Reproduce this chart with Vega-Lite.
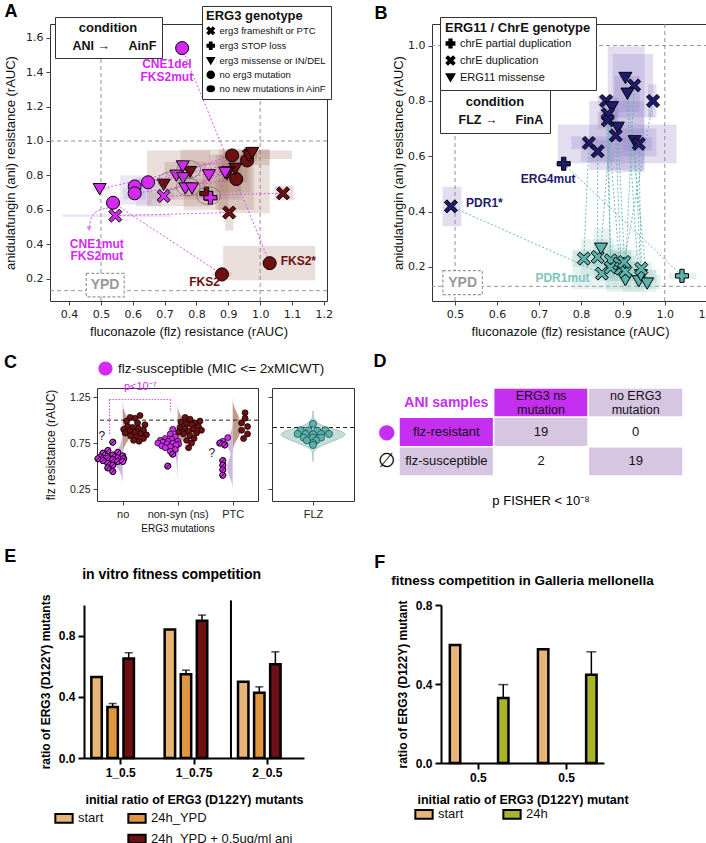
{
"$schema":"https://vega.github.io/schema/vega-lite/v6.json",
"background":"white",
"padding":{"left":2,"top":2,"right":0,"bottom":0},
"config":{
 "font":"Liberation Sans",
 "view":{"stroke":"#333","strokeWidth":1},
 "axis":{"grid":false,"domain":false,"labelOverlap":false,"labelFont":"DejaVu Sans","labelFontSize":10.5,"labelColor":"#222","titleFont":"Liberation Sans","titleFontSize":13,"titleFontWeight":"normal","titleColor":"#111","tickColor":"#444","tickSize":4,"labelPadding":3,"titlePadding":8},
 "title":{"font":"Liberation Sans","fontSize":18,"fontWeight":"bold","anchor":"start","color":"black","offset":2},
 "legend":{"labelFont":"Liberation Sans","titleFont":"Liberation Sans","labelColor":"#111","titleColor":"#111"}
},
"datasets":{
"A":[
{"pair":1,"cond":"ANI","geno":"no erg3 mutation","flz":0.755,"ani":1.54,"flo":0.745,"fhi":0.765,"alo":1.53,"ahi":1.55},
{"pair":1,"cond":"AinF","geno":"no erg3 mutation","flz":1.03,"ani":0.29,"flo":0.884,"fhi":1.173,"alo":0.19,"ahi":0.39},
{"pair":2,"cond":"ANI","geno":"no erg3 mutation","flz":0.538,"ani":0.641,"flo":0.52,"fhi":0.56,"alo":0.62,"ahi":0.66},
{"pair":2,"cond":"AinF","geno":"no erg3 mutation","flz":0.88,"ani":0.225,"flo":0.85,"fhi":0.91,"alo":0.215,"ahi":0.235},
{"pair":3,"cond":"ANI","geno":"erg3 frameshift or PTC","flz":0.545,"ani":0.566,"flo":0.38,"fhi":0.72,"alo":0.558,"ahi":0.574},
{"pair":3,"cond":"AinF","geno":"erg3 frameshift or PTC","flz":0.903,"ani":0.584,"flo":0.89,"fhi":0.916,"alo":0.48,"ahi":0.62},
{"pair":4,"cond":"ANI","geno":"erg3 frameshift or PTC","flz":0.697,"ani":0.68,"flo":0.66,"fhi":0.73,"alo":0.66,"ahi":0.70},
{"pair":4,"cond":"AinF","geno":"erg3 frameshift or PTC","flz":1.072,"ani":0.696,"flo":1.045,"fhi":1.105,"alo":0.655,"ahi":0.74},
{"pair":5,"cond":"ANI","geno":"erg3 STOP loss","flz":0.844,"ani":0.67,"flo":0.83,"fhi":0.86,"alo":0.65,"ahi":0.69},
{"pair":5,"cond":"AinF","geno":"erg3 STOP loss","flz":0.831,"ani":0.694,"flo":0.76,"fhi":0.90,"alo":0.60,"ahi":0.78},
{"pair":6,"cond":"ANI","geno":"erg3 missense or IN/DEL","flz":0.496,"ani":0.72,"flo":0.47,"fhi":0.53,"alo":0.71,"ahi":0.73},
{"pair":6,"cond":"AinF","geno":"erg3 missense or IN/DEL","flz":0.97,"ani":0.92,"flo":0.88,"fhi":1.10,"alo":0.895,"ahi":0.945},
{"pair":7,"cond":"ANI","geno":"no erg3 mutation","flz":0.606,"ani":0.736,"flo":0.56,"fhi":0.66,"alo":0.63,"ahi":0.80},
{"pair":7,"cond":"AinF","geno":"no erg3 mutation","flz":0.912,"ani":0.916,"flo":0.75,"fhi":1.03,"alo":0.86,"ahi":0.95},
{"pair":8,"cond":"ANI","geno":"no erg3 mutation","flz":0.606,"ani":0.696,"flo":0.57,"fhi":0.64,"alo":0.66,"ahi":0.73},
{"pair":8,"cond":"AinF","geno":"no erg3 mutation","flz":0.925,"ani":0.779,"flo":0.86,"fhi":0.98,"alo":0.60,"ahi":0.92},
{"pair":9,"cond":"ANI","geno":"no erg3 mutation","flz":0.648,"ani":0.76,"flo":0.61,"fhi":0.69,"alo":0.62,"ahi":0.79},
{"pair":9,"cond":"AinF","geno":"no erg3 mutation","flz":0.959,"ani":0.887,"flo":0.87,"fhi":1.03,"alo":0.58,"ahi":0.95},
{"pair":10,"cond":"ANI","geno":"erg3 missense or IN/DEL","flz":0.737,"ani":0.798,"flo":0.72,"fhi":0.75,"alo":0.78,"ahi":0.82},
{"pair":10,"cond":"AinF","geno":"erg3 missense or IN/DEL","flz":0.697,"ani":0.745,"flo":0.645,"fhi":0.843,"alo":0.62,"ahi":0.945},
{"pair":11,"cond":"ANI","geno":"erg3 missense or IN/DEL","flz":0.757,"ani":0.852,"flo":0.74,"fhi":0.77,"alo":0.84,"ahi":0.87},
{"pair":11,"cond":"AinF","geno":"erg3 missense or IN/DEL","flz":0.78,"ani":0.82,"flo":0.70,"fhi":0.83,"alo":0.66,"ahi":0.88},
{"pair":12,"cond":"ANI","geno":"erg3 missense or IN/DEL","flz":0.758,"ani":0.783,"flo":0.74,"fhi":0.78,"alo":0.77,"ahi":0.80},
{"pair":12,"cond":"AinF","geno":"erg3 missense or IN/DEL","flz":0.922,"ani":0.838,"flo":0.88,"fhi":0.96,"alo":0.76,"ahi":0.91},
{"pair":13,"cond":"ANI","geno":"erg3 missense or IN/DEL","flz":0.765,"ani":0.724,"flo":0.75,"fhi":0.78,"alo":0.71,"ahi":0.74},
{"pair":13,"cond":"AinF","geno":"erg3 missense or IN/DEL","flz":0.90,"ani":0.818,"flo":0.84,"fhi":0.97,"alo":0.70,"ahi":0.92},
{"pair":14,"cond":"ANI","geno":"erg3 missense or IN/DEL","flz":0.786,"ani":0.724,"flo":0.77,"fhi":0.80,"alo":0.71,"ahi":0.74},
{"pair":14,"cond":"AinF","geno":"erg3 missense or IN/DEL","flz":0.965,"ani":0.91,"flo":0.94,"fhi":0.99,"alo":0.88,"ahi":0.94},
{"pair":15,"cond":"ANI","geno":"erg3 missense or IN/DEL","flz":0.839,"ani":0.80,"flo":0.82,"fhi":0.86,"alo":0.78,"ahi":0.82},
{"pair":15,"cond":"AinF","geno":"erg3 missense or IN/DEL","flz":0.896,"ani":0.808,"flo":0.82,"fhi":0.94,"alo":0.66,"ahi":0.87},
{"pair":16,"cond":"ANI","geno":"erg3 missense or IN/DEL","flz":0.89,"ani":0.815,"flo":0.87,"fhi":0.91,"alo":0.80,"ahi":0.83},
{"pair":16,"cond":"AinF","geno":"erg3 missense or IN/DEL","flz":0.975,"ani":0.93,"flo":0.96,"fhi":0.99,"alo":0.91,"ahi":0.95}
],
"B":[
{"pair":1,"cond":"FinA","geno":"chrE duplication","flz":0.49,"ani":0.419,"flo":0.47,"fhi":0.515,"alo":0.347,"ahi":0.49},
{"pair":1,"cond":"FLZ","geno":"chrE duplication","flz":0.85,"ani":0.176,"flo":0.78,"fhi":0.92,"alo":0.12,"ahi":0.26},
{"pair":2,"cond":"FinA","geno":"chrE partial duplication","flz":0.759,"ani":0.573,"flo":0.752,"fhi":0.766,"alo":0.555,"ahi":0.59},
{"pair":2,"cond":"FLZ","geno":"chrE partial duplication","flz":1.041,"ani":0.168,"flo":1.01,"fhi":1.075,"alo":0.155,"ahi":0.18},
{"pair":3,"cond":"FinA","geno":"chrE duplication","flz":0.819,"ani":0.648,"flo":0.777,"fhi":0.864,"alo":0.625,"ahi":0.672},
{"pair":3,"cond":"FLZ","geno":"chrE duplication","flz":0.807,"ani":0.23,"flo":0.78,"fhi":0.84,"alo":0.2,"ahi":0.26},
{"pair":4,"cond":"FinA","geno":"chrE duplication","flz":0.84,"ani":0.618,"flo":0.80,"fhi":0.88,"alo":0.58,"ahi":0.66},
{"pair":4,"cond":"FLZ","geno":"chrE duplication","flz":0.84,"ani":0.236,"flo":0.80,"fhi":0.88,"alo":0.17,"ahi":0.30},
{"pair":5,"cond":"FinA","geno":"chrE duplication","flz":0.86,"ani":0.80,"flo":0.84,"fhi":0.88,"alo":0.78,"ahi":0.82},
{"pair":5,"cond":"FLZ","geno":"chrE duplication","flz":0.871,"ani":0.224,"flo":0.83,"fhi":0.91,"alo":0.16,"ahi":0.28},
{"pair":6,"cond":"FinA","geno":"ERG11 missense","flz":0.874,"ani":0.777,"flo":0.85,"fhi":0.89,"alo":0.74,"ahi":0.81},
{"pair":6,"cond":"FLZ","geno":"ERG11 missense","flz":0.848,"ani":0.266,"flo":0.83,"fhi":0.87,"alo":0.20,"ahi":0.34},
{"pair":7,"cond":"FinA","geno":"chrE duplication","flz":0.864,"ani":0.752,"flo":0.845,"fhi":0.885,"alo":0.72,"ahi":0.78},
{"pair":7,"cond":"FLZ","geno":"chrE duplication","flz":0.871,"ani":0.198,"flo":0.84,"fhi":0.90,"alo":0.15,"ahi":0.25},
{"pair":8,"cond":"FinA","geno":"chrE duplication","flz":0.864,"ani":0.73,"flo":0.84,"fhi":0.89,"alo":0.70,"ahi":0.76},
{"pair":8,"cond":"FLZ","geno":"chrE duplication","flz":0.892,"ani":0.212,"flo":0.86,"fhi":0.92,"alo":0.16,"ahi":0.26},
{"pair":9,"cond":"FinA","geno":"ERG11 missense","flz":0.888,"ani":0.703,"flo":0.745,"fhi":1.028,"alo":0.575,"ahi":0.715},
{"pair":9,"cond":"FLZ","geno":"ERG11 missense","flz":0.906,"ani":0.152,"flo":0.86,"fhi":0.95,"alo":0.11,"ahi":0.20},
{"pair":10,"cond":"FinA","geno":"chrE duplication","flz":0.883,"ani":0.675,"flo":0.82,"fhi":0.95,"alo":0.55,"ahi":0.80},
{"pair":10,"cond":"FLZ","geno":"chrE duplication","flz":0.896,"ani":0.194,"flo":0.86,"fhi":0.93,"alo":0.15,"ahi":0.24},
{"pair":11,"cond":"FinA","geno":"ERG11 missense","flz":0.906,"ani":0.883,"flo":0.864,"fhi":0.952,"alo":0.543,"ahi":0.997},
{"pair":11,"cond":"FLZ","geno":"ERG11 missense","flz":0.938,"ani":0.148,"flo":0.90,"fhi":0.98,"alo":0.11,"ahi":0.19},
{"pair":12,"cond":"FinA","geno":"chrE duplication","flz":0.927,"ani":0.856,"flo":0.876,"fhi":0.972,"alo":0.74,"ahi":0.97},
{"pair":12,"cond":"FLZ","geno":"chrE duplication","flz":0.906,"ani":0.184,"flo":0.87,"fhi":0.94,"alo":0.15,"ahi":0.22},
{"pair":13,"cond":"FinA","geno":"ERG11 missense","flz":0.911,"ani":0.826,"flo":0.88,"fhi":0.94,"alo":0.76,"ahi":0.89},
{"pair":13,"cond":"FLZ","geno":"ERG11 missense","flz":0.958,"ani":0.14,"flo":0.93,"fhi":0.99,"alo":0.12,"ahi":0.17},
{"pair":14,"cond":"FinA","geno":"chrE duplication","flz":0.972,"ani":0.80,"flo":0.96,"fhi":0.98,"alo":0.74,"ahi":0.86},
{"pair":14,"cond":"FLZ","geno":"chrE duplication","flz":0.903,"ani":0.218,"flo":0.87,"fhi":0.94,"alo":0.18,"ahi":0.26},
{"pair":15,"cond":"FinA","geno":"ERG11 missense","flz":0.928,"ani":0.654,"flo":0.88,"fhi":0.98,"alo":0.60,"ahi":0.70},
{"pair":15,"cond":"FLZ","geno":"ERG11 missense","flz":0.943,"ani":0.17,"flo":0.91,"fhi":0.98,"alo":0.15,"ahi":0.19},
{"pair":16,"cond":"FinA","geno":"chrE duplication","flz":0.938,"ani":0.645,"flo":0.90,"fhi":0.97,"alo":0.62,"ahi":0.67},
{"pair":16,"cond":"FLZ","geno":"chrE duplication","flz":0.944,"ani":0.194,"flo":0.92,"fhi":0.97,"alo":0.17,"ahi":0.22}
],
"C":[
{"g":"no","c":"ANI","v":0.76,"s":-2,"sus":1},{"g":"no","c":"ANI","v":0.67,"s":-3,"sus":1},{"g":"no","c":"ANI","v":0.65,"s":-1,"sus":1},{"g":"no","c":"ANI","v":0.64,"s":-4,"sus":1},{"g":"no","c":"ANI","v":0.62,"s":-2,"sus":1},{"g":"no","c":"ANI","v":0.61,"s":0,"sus":1},{"g":"no","c":"ANI","v":0.60,"s":-4.5,"sus":1},{"g":"no","c":"ANI","v":0.59,"s":-3,"sus":1},{"g":"no","c":"ANI","v":0.59,"s":-1,"sus":1},{"g":"no","c":"ANI","v":0.58,"s":-5,"sus":1},{"g":"no","c":"ANI","v":0.58,"s":0.2,"sus":1},{"g":"no","c":"ANI","v":0.57,"s":-2,"sus":1},{"g":"no","c":"ANI","v":0.56,"s":-4,"sus":1},{"g":"no","c":"ANI","v":0.55,"s":-1,"sus":1},{"g":"no","c":"ANI","v":0.55,"s":0,"sus":1},{"g":"no","c":"ANI","v":0.53,"s":-3,"sus":1},{"g":"no","c":"ANI","v":0.51,"s":-2,"sus":1},{"g":"no","c":"ANI","v":0.48,"s":-3,"sus":1},{"g":"no","c":"ANI","v":0.44,"s":-2,"sus":1},
{"g":"no","c":"AinF","v":1.05,"s":3.5,"sus":0},{"g":"no","c":"AinF","v":1.03,"s":1.5,"sus":0},{"g":"no","c":"AinF","v":1.02,"s":2.5,"sus":0},{"g":"no","c":"AinF","v":0.99,"s":0.8,"sus":0},{"g":"no","c":"AinF","v":0.97,"s":3,"sus":0},{"g":"no","c":"AinF","v":0.95,"s":4.5,"sus":0},{"g":"no","c":"AinF","v":0.93,"s":1,"sus":0},{"g":"no","c":"AinF","v":0.92,"s":2,"sus":0},{"g":"no","c":"AinF","v":0.91,"s":3.2,"sus":0},{"g":"no","c":"AinF","v":0.90,"s":0.2,"sus":0},{"g":"no","c":"AinF","v":0.89,"s":4.2,"sus":0},{"g":"no","c":"AinF","v":0.88,"s":1.4,"sus":0},{"g":"no","c":"AinF","v":0.87,"s":2.5,"sus":0},{"g":"no","c":"AinF","v":0.86,"s":0.5,"sus":0},{"g":"no","c":"AinF","v":0.85,"s":3.6,"sus":0},{"g":"no","c":"AinF","v":0.84,"s":4.8,"sus":0},{"g":"no","c":"AinF","v":0.83,"s":1.6,"sus":0},{"g":"no","c":"AinF","v":0.82,"s":2.8,"sus":0},{"g":"no","c":"AinF","v":0.80,"s":4.2,"sus":0},{"g":"no","c":"AinF","v":0.78,"s":2.2,"sus":0},{"g":"no","c":"AinF","v":0.77,"s":3.3,"sus":0},
{"g":"non-syn (ns)","c":"ANI","v":0.90,"s":-1,"sus":0},{"g":"non-syn (ns)","c":"ANI","v":0.85,"s":-1.5,"sus":0},{"g":"non-syn (ns)","c":"ANI","v":0.82,"s":-0.5,"sus":0},{"g":"non-syn (ns)","c":"ANI","v":0.80,"s":-2.5,"sus":0},{"g":"non-syn (ns)","c":"ANI","v":0.79,"s":-1.2,"sus":0},{"g":"non-syn (ns)","c":"ANI","v":0.78,"s":-3.5,"sus":0},{"g":"non-syn (ns)","c":"ANI","v":0.77,"s":-2,"sus":0},{"g":"non-syn (ns)","c":"ANI","v":0.77,"s":0,"sus":0},{"g":"non-syn (ns)","c":"ANI","v":0.76,"s":-3,"sus":0},{"g":"non-syn (ns)","c":"ANI","v":0.75,"s":-1,"sus":0},{"g":"non-syn (ns)","c":"ANI","v":0.75,"s":-4,"sus":0},{"g":"non-syn (ns)","c":"ANI","v":0.74,"s":-2.2,"sus":0},{"g":"non-syn (ns)","c":"ANI","v":0.74,"s":0.2,"sus":0},{"g":"non-syn (ns)","c":"ANI","v":0.73,"s":-0.3,"sus":0},{"g":"non-syn (ns)","c":"ANI","v":0.72,"s":-3.2,"sus":0},{"g":"non-syn (ns)","c":"ANI","v":0.71,"s":-1.5,"sus":0},{"g":"non-syn (ns)","c":"ANI","v":0.70,"s":-2.5,"sus":0},{"g":"non-syn (ns)","c":"ANI","v":0.68,"s":-0.5,"sus":0},{"g":"non-syn (ns)","c":"ANI","v":0.66,"s":-1.5,"sus":0},{"g":"non-syn (ns)","c":"ANI","v":0.63,"s":-1,"sus":1},{"g":"non-syn (ns)","c":"ANI","v":0.50,"s":-2,"sus":1},
{"g":"non-syn (ns)","c":"AinF","v":1.03,"s":1.5,"sus":0},{"g":"non-syn (ns)","c":"AinF","v":1.01,"s":2.5,"sus":0},{"g":"non-syn (ns)","c":"AinF","v":0.99,"s":4.5,"sus":0},{"g":"non-syn (ns)","c":"AinF","v":0.98,"s":0.7,"sus":0},{"g":"non-syn (ns)","c":"AinF","v":0.97,"s":3.5,"sus":0},{"g":"non-syn (ns)","c":"AinF","v":0.96,"s":1.8,"sus":0},{"g":"non-syn (ns)","c":"AinF","v":0.95,"s":2.8,"sus":0},{"g":"non-syn (ns)","c":"AinF","v":0.93,"s":4.2,"sus":0},{"g":"non-syn (ns)","c":"AinF","v":0.92,"s":0.5,"sus":0},{"g":"non-syn (ns)","c":"AinF","v":0.91,"s":1.5,"sus":0},{"g":"non-syn (ns)","c":"AinF","v":0.90,"s":3.2,"sus":0},{"g":"non-syn (ns)","c":"AinF","v":0.89,"s":4.8,"sus":0},{"g":"non-syn (ns)","c":"AinF","v":0.88,"s":2.2,"sus":0},{"g":"non-syn (ns)","c":"AinF","v":0.87,"s":0.2,"sus":0},{"g":"non-syn (ns)","c":"AinF","v":0.86,"s":3.8,"sus":0},{"g":"non-syn (ns)","c":"AinF","v":0.85,"s":1.2,"sus":0},{"g":"non-syn (ns)","c":"AinF","v":0.83,"s":2.5,"sus":0},{"g":"non-syn (ns)","c":"AinF","v":0.80,"s":3.3,"sus":0},{"g":"non-syn (ns)","c":"AinF","v":0.78,"s":1.8,"sus":0},{"g":"non-syn (ns)","c":"AinF","v":0.75,"s":2.8,"sus":0},{"g":"non-syn (ns)","c":"AinF","v":0.70,"s":2.2,"sus":0},
{"g":"PTC","c":"ANI","v":0.81,"s":-1,"sus":0},{"g":"PTC","c":"ANI","v":0.77,"s":-2,"sus":0},{"g":"PTC","c":"ANI","v":0.75,"s":-2.6,"sus":1},{"g":"PTC","c":"ANI","v":0.73,"s":-1.6,"sus":1},{"g":"PTC","c":"ANI","v":0.56,"s":-2,"sus":1},{"g":"PTC","c":"ANI","v":0.51,"s":-2,"sus":1},{"g":"PTC","c":"ANI","v":0.46,"s":-2,"sus":1},{"g":"PTC","c":"ANI","v":0.40,"s":-2,"sus":1},
{"g":"PTC","c":"AinF","v":1.08,"s":2.5,"sus":0},{"g":"PTC","c":"AinF","v":1.02,"s":2.5,"sus":0},{"g":"PTC","c":"AinF","v":0.97,"s":1.8,"sus":0},{"g":"PTC","c":"AinF","v":0.93,"s":3,"sus":0},{"g":"PTC","c":"AinF","v":0.89,"s":1.8,"sus":0},{"g":"PTC","c":"AinF","v":0.85,"s":3,"sus":0},{"g":"PTC","c":"AinF","v":0.80,"s":2.2,"sus":0}
],
"FLZ":[
{"v":0.96,"s":0},{"v":0.89,"s":-2},{"v":0.89,"s":-0.7},{"v":0.885,"s":0.7},{"v":0.89,"s":2},{"v":0.85,"s":-2.5},{"v":0.85,"s":-1.2},{"v":0.845,"s":0},{"v":0.85,"s":1.3},{"v":0.85,"s":2.6},{"v":0.81,"s":-1.5},{"v":0.81,"s":0},{"v":0.81,"s":1.3},{"v":0.78,"s":-1},{"v":0.78,"s":0.5},{"v":0.75,"s":0},{"v":0.73,"s":0}
],
"E":[
{"grp":"1_0.5","cond":"start","val":0.53},{"grp":"1_0.5","cond":"24h_YPD","val":0.334,"hi":0.356},{"grp":"1_0.5","cond":"24h_YPD + 0.5ug/ml ani","val":0.65,"hi":0.688},
{"grp":"1_0.75","cond":"start","val":0.84},{"grp":"1_0.75","cond":"24h_YPD","val":0.548,"hi":0.574},{"grp":"1_0.75","cond":"24h_YPD + 0.5ug/ml ani","val":0.897,"hi":0.934},
{"grp":"2_0.5","cond":"start","val":0.498},{"grp":"2_0.5","cond":"24h_YPD","val":0.426,"hi":0.465},{"grp":"2_0.5","cond":"24h_YPD + 0.5ug/ml ani","val":0.613,"hi":0.694}
],
"F":[
{"grp":"a","cond":"start","val":0.597},{"grp":"a","cond":"24h","val":0.329,"hi":0.397},{"grp":"b","cond":"start","val":0.576},{"grp":"b","cond":"24h","val":0.447,"hi":0.563}
]
},
"spacing":14,
"resolve":{"scale":{"fill":"independent","shape":"independent","color":"independent"},"legend":{"fill":"independent","shape":"independent","color":"independent"}},
"vconcat":[
{"spacing":1,
 "resolve":{"scale":{"fill":"independent","shape":"independent","color":"independent"},"legend":{"fill":"independent","shape":"independent","color":"independent"}},
 "hconcat":[
 {"width":1,"height":1,"view":{"stroke":null},"data":{"values":[{"k":0}]},"mark":{"type":"text","text":""},"encoding":{}},
 {"spacing":40,
  "resolve":{"scale":{"fill":"independent","shape":"independent","color":"independent"},"legend":{"fill":"independent","shape":"independent","color":"independent"}},
  "hconcat":[
 {"title":{"text":"A","offset":-15},"width":277,"height":277,
  "layer":[
   {"data":{"values":[{"v":0.5},{"v":1.0}]},"mark":{"type":"rule","color":"#888","strokeDash":[4,3],"strokeWidth":0.9},"encoding":{"x":{"field":"v","type":"quantitative","scale":{"domain":[0.34,1.21],"nice":false,"zero":false},"axis":{"labelOverlap":false}}}},
   {"data":{"values":[{"v":1.0},{"v":0.13}]},"mark":{"type":"rule","color":"#888","strokeDash":[4,3],"strokeWidth":0.9},"encoding":{"y":{"field":"v","type":"quantitative","scale":{"domain":[0.07,1.68],"nice":false,"zero":false},"axis":{"labelOverlap":false}}}},
   {"data":{"name":"A"},"mark":{"type":"rect","fillOpacity":0.22},"encoding":{"x":{"field":"flo","type":"quantitative","scale":{"domain":[0.34,1.21],"nice":false,"zero":false},"axis":{"labelOverlap":false}},"x2":{"field":"fhi"},"y":{"field":"alo","type":"quantitative","scale":{"domain":[0.07,1.68],"nice":false,"zero":false},"axis":{"labelOverlap":false}},"y2":{"field":"ahi"},"fill":{"condition":{"test":"datum.cond === 'ANI'","value":"#a48ccf"},"value":"#9a6a55"}}},
   {"data":{"name":"A"},"mark":{"type":"line","color":"#dd44f0","strokeDash":[2,2],"strokeWidth":0.9},"encoding":{"x":{"field":"flz","type":"quantitative","scale":{"domain":[0.34,1.21],"nice":false,"zero":false},"axis":{"labelOverlap":false}},"y":{"field":"ani","type":"quantitative","scale":{"domain":[0.07,1.68],"nice":false,"zero":false},"axis":{"labelOverlap":false}},"detail":{"field":"pair","type":"nominal"}}},
   {"data":{"values":[{"x":0.463,"y":0.5},{"x":0.472,"y":0.592},{"x":0.525,"y":0.612}]},"mark":{"type":"line","color":"#dd44f0","strokeDash":[2,2],"strokeWidth":1,"interpolate":"basis"},"encoding":{"x":{"field":"x","type":"quantitative","scale":{"domain":[0.34,1.21],"nice":false,"zero":false},"axis":{"labelOverlap":false}},"y":{"field":"y","type":"quantitative","scale":{"domain":[0.07,1.68],"nice":false,"zero":false},"axis":{"labelOverlap":false}}}},
   {"data":{"values":[{"x":0.463,"y":0.49}]},"mark":{"type":"point","shape":"triangle-down","filled":true,"color":"#dd44f0","size":28},"encoding":{"x":{"field":"x","type":"quantitative","scale":{"domain":[0.34,1.21],"nice":false,"zero":false},"axis":{"labelOverlap":false}},"y":{"field":"y","type":"quantitative","scale":{"domain":[0.07,1.68],"nice":false,"zero":false},"axis":{"labelOverlap":false}}}},
   {"data":{"name":"A"},"transform":[{"filter":"datum.cond === 'AinF'"}],"mark":{"type":"point","filled":true,"size":170,"stroke":"black","strokeWidth":1,"opacity":1},
    "encoding":{
     "x":{"field":"flz","type":"quantitative","scale":{"domain":[0.34,1.21],"nice":false,"zero":false},"axis":{"title":"fluconazole (flz) resistance (rAUC)","tickCount":9,"format":".1f","labelFontSize":11,"titlePadding":6,"labelOverlap":false}},
     "y":{"field":"ani","type":"quantitative","scale":{"domain":[0.07,1.68],"nice":false,"zero":false},"axis":{"title":"anidulafungin (ani) resistance (rAUC)","tickCount":8,"format":".1f","labelFontSize":11,"titlePadding":8,"labelOverlap":false}},
     "shape":{"field":"geno","type":"nominal","scale":{"domain":["erg3 frameshift or PTC","erg3 STOP loss","erg3 missense or IN/DEL","no erg3 mutation","no new mutations in AinF"],"range":["M-1,-0.6L-0.6,-1L0,-0.4L0.6,-1L1,-0.6L0.4,0L1,0.6L0.6,1L0,0.4L-0.6,1L-1,0.6L-0.4,0Z","M-0.33,-1H0.33V-0.33H1V0.33H0.33V1H-0.33V0.33H-1V-0.33H-0.33Z","triangle-down","circle","M-1,0A1,0.75 0 1,0 1,0A1,0.75 0 1,0 -1,0Z"]},
       "legend":{"title":"ERG3 genotype","orient":"none","legendX":152,"legendY":-18,"strokeColor":"#333","fillColor":"white","padding":4,"titleFontSize":13,"titleFontWeight":"bold","labelFontSize":9.5,"symbolSize":50,"rowPadding":1,"labelLimit":200,"titlePadding":3,
        "encode":{"symbols":{"update":{"stroke":{"value":"#444"},"strokeWidth":{"value":1}}},"labels":{"update":{"fill":{"signal":"datum.value === 'no new mutations in AinF' ? '#777' : '#111'"}}}}}},
     "fill":{"field":"cond","type":"nominal","scale":{"domain":["ANI","AinF"],"range":["#d42af2","#6e0f12"]},
       "legend":{"title":"condition","orient":"none","legendX":5,"legendY":-7,"direction":"horizontal","strokeColor":"#333","fillColor":"white","padding":5,"titleFontSize":13,"titleFontWeight":"bold","titleAnchor":"middle","symbolSize":0,"symbolOpacity":0,"labelFontSize":12.5,"labelFontWeight":"bold","columnPadding":2,"labelOffset":0,
        "labelExpr":"datum.label === 'ANI' ? 'ANI  →' : datum.label",
        "encode":{"labels":{"update":{"fill":{"signal":"datum.value === 'ANI' ? '#d42af2' : '#6e0f12'"}}}}}}}},
   {"data":{"name":"A"},"transform":[{"filter":"datum.cond === 'ANI'"}],"mark":{"type":"point","filled":true,"size":170,"stroke":"black","strokeWidth":1,"opacity":1},
    "encoding":{
     "x":{"field":"flz","type":"quantitative","scale":{"domain":[0.34,1.21],"nice":false,"zero":false},"axis":{"labelOverlap":false}},
     "y":{"field":"ani","type":"quantitative","scale":{"domain":[0.07,1.68],"nice":false,"zero":false},"axis":{"labelOverlap":false}},
     "shape":{"field":"geno","type":"nominal"},
     "fill":{"field":"cond","type":"nominal"}}},
   {"data":{"values":[{"x":0.717,"y":0.768,"geno":"no new mutations in AinF"},{"x":0.774,"y":0.733,"geno":"no new mutations in AinF"},{"x":0.776,"y":0.835,"geno":"no new mutations in AinF"},{"x":0.838,"y":0.682,"geno":"no new mutations in AinF"}]},"mark":{"type":"point","filled":false,"stroke":"#666","strokeWidth":1,"size":560},"encoding":{"x":{"field":"x","type":"quantitative","scale":{"domain":[0.34,1.21],"nice":false,"zero":false},"axis":{"labelOverlap":false}},"y":{"field":"y","type":"quantitative","scale":{"domain":[0.07,1.68],"nice":false,"zero":false},"axis":{"labelOverlap":false}},"shape":{"field":"geno","type":"nominal"}}},
   {"data":{"values":[{"x1":0.454,"x2":0.573,"y1":0.094,"y2":0.23}]},"mark":{"type":"rect","fill":"white","stroke":"#999","strokeDash":[3,2],"strokeWidth":1.2},"encoding":{"x":{"field":"x1","type":"quantitative","scale":{"domain":[0.34,1.21],"nice":false,"zero":false},"axis":{"labelOverlap":false}},"x2":{"field":"x2"},"y":{"field":"y1","type":"quantitative","scale":{"domain":[0.07,1.68],"nice":false,"zero":false},"axis":{"labelOverlap":false}},"y2":{"field":"y2"}}},
   {"data":{"values":[{"x":0.513,"y":0.162,"t":"YPD"}]},"mark":{"type":"text","fontSize":14,"fontWeight":"bold","color":"#999"},"encoding":{"x":{"field":"x","type":"quantitative","scale":{"domain":[0.34,1.21],"nice":false,"zero":false},"axis":{"labelOverlap":false}},"y":{"field":"y","type":"quantitative","scale":{"domain":[0.07,1.68],"nice":false,"zero":false},"axis":{"labelOverlap":false}},"text":{"field":"t"}}},
   {"data":{"values":[{"t":"CNE1del","x":0.707,"y":1.45,"cond":"ANI"},{"t":"FKS2mut","x":0.707,"y":1.37,"cond":"ANI"},{"t":"CNE1mut","x":0.487,"y":0.40,"cond":"ANI"},{"t":"FKS2mut","x":0.487,"y":0.33,"cond":"ANI"},{"t":"FKS2*","x":1.12,"y":0.305,"cond":"AinF"},{"t":"FKS2*","x":0.833,"y":0.18,"cond":"AinF"}]},"mark":{"type":"text","fontSize":12,"fontWeight":"bold"},"encoding":{"x":{"field":"x","type":"quantitative","scale":{"domain":[0.34,1.21],"nice":false,"zero":false},"axis":{"labelOverlap":false}},"y":{"field":"y","type":"quantitative","scale":{"domain":[0.07,1.68],"nice":false,"zero":false},"axis":{"labelOverlap":false}},"text":{"field":"t"},"fill":{"condition":{"test":"datum.cond === 'ANI'","value":"#d42af2"},"value":"#6e0f12"}}}
  ]},
 {"title":{"text":"B","offset":-6,"dx":-18},"width":276,"height":277,
  "layer":[
   {"data":{"values":[{"v":0.5},{"v":1.0}]},"mark":{"type":"rule","color":"#888","strokeDash":[4,3],"strokeWidth":0.9},"encoding":{"x":{"field":"v","type":"quantitative","scale":{"domain":[0.445,1.103],"nice":false,"zero":false}}}},
   {"data":{"values":[{"v":1.0},{"v":0.13}]},"mark":{"type":"rule","color":"#888","strokeDash":[4,3],"strokeWidth":0.9},"encoding":{"y":{"field":"v","type":"quantitative","scale":{"domain":[0.077,1.078],"nice":false,"zero":false}}}},
   {"data":{"name":"B"},"mark":{"type":"rect","fillOpacity":0.25},"encoding":{"x":{"field":"flo","type":"quantitative","scale":{"domain":[0.445,1.103],"nice":false,"zero":false}},"x2":{"field":"fhi"},"y":{"field":"alo","type":"quantitative","scale":{"domain":[0.077,1.078],"nice":false,"zero":false}},"y2":{"field":"ahi"},"fill":{"condition":{"test":"datum.cond === 'FLZ'","value":"#9ccbc5"},"value":"#8c7dc2"}}},
   {"data":{"name":"B"},"mark":{"type":"line","color":"#5cb3ad","strokeDash":[2,2],"strokeWidth":0.9},"encoding":{"x":{"field":"flz","type":"quantitative","scale":{"domain":[0.445,1.103],"nice":false,"zero":false}},"y":{"field":"ani","type":"quantitative","scale":{"domain":[0.077,1.078],"nice":false,"zero":false}},"detail":{"field":"pair","type":"nominal"}}},
   {"data":{"name":"B"},"mark":{"type":"point","filled":true,"size":170,"stroke":"black","strokeWidth":1,"opacity":1},
    "encoding":{
     "x":{"field":"flz","type":"quantitative","scale":{"domain":[0.445,1.103],"nice":false,"zero":false},"axis":{"title":"fluconazole (flz) resistance (rAUC)","values":[0.5,0.6,0.7,0.8,0.9,1.0,1.1],"format":".1f","labelFontSize":11,"titlePadding":6}},
     "y":{"field":"ani","type":"quantitative","scale":{"domain":[0.077,1.078],"nice":false,"zero":false},"axis":{"title":"anidulafungin (ani) resistance (rAUC)","values":[0.2,0.4,0.6,0.8,1.0],"format":".1f","labelFontSize":11,"titlePadding":2}},
     "shape":{"field":"geno","type":"nominal","scale":{"domain":["chrE partial duplication","chrE duplication","ERG11 missense"],"range":["M-0.33,-1H0.33V-0.33H1V0.33H0.33V1H-0.33V0.33H-1V-0.33H-0.33Z","M-1,-0.6L-0.6,-1L0,-0.4L0.6,-1L1,-0.6L0.4,0L1,0.6L0.6,1L0,0.4L-0.6,1L-1,0.6L-0.4,0Z","triangle-down"]},
       "legend":{"title":"ERG11 / ChrE genotype","orient":"none","legendX":8,"legendY":-7,"strokeColor":"#333","fillColor":"white","padding":5,"titleFontSize":13,"titleFontWeight":"bold","labelFontSize":11,"symbolSize":70,"rowPadding":2,"titlePadding":3,
        "encode":{"symbols":{"update":{"stroke":{"value":"#222"},"strokeWidth":{"value":1}}}}}},
     "fill":{"field":"cond","type":"nominal","scale":{"domain":["FLZ","FinA"],"range":["#5cb3ad","#1f1b6e"]},
       "legend":{"title":"condition","orient":"none","legendX":8,"legendY":66,"direction":"horizontal","strokeColor":"#333","fillColor":"white","padding":6,"titleFontSize":13,"titleFontWeight":"bold","titleAnchor":"middle","symbolSize":0,"symbolOpacity":0,"labelFontSize":12.5,"labelFontWeight":"bold","columnPadding":2,"labelOffset":0,
        "labelExpr":"datum.label === 'FLZ' ? 'FLZ  →' : datum.label",
        "encode":{"labels":{"update":{"fill":{"signal":"datum.value === 'FLZ' ? '#5cb3ad' : '#1f1b6e'"}}}}}}}},
   {"data":{"values":[{"x1":0.471,"x2":0.565,"y1":0.10,"y2":0.187}]},"mark":{"type":"rect","fill":"white","stroke":"#999","strokeDash":[3,2],"strokeWidth":1.2},"encoding":{"x":{"field":"x1","type":"quantitative","scale":{"domain":[0.445,1.103],"nice":false,"zero":false}},"x2":{"field":"x2"},"y":{"field":"y1","type":"quantitative","scale":{"domain":[0.077,1.078],"nice":false,"zero":false}},"y2":{"field":"y2"}}},
   {"data":{"values":[{"x":0.518,"y":0.143,"t":"YPD"}]},"mark":{"type":"text","fontSize":14,"fontWeight":"bold","color":"#999"},"encoding":{"x":{"field":"x","type":"quantitative","scale":{"domain":[0.445,1.103],"nice":false,"zero":false}},"y":{"field":"y","type":"quantitative","scale":{"domain":[0.077,1.078],"nice":false,"zero":false}},"text":{"field":"t"}}},
   {"data":{"values":[{"t":"PDR1*","x":0.57,"y":0.43,"cond":"FinA"},{"t":"ERG4mut","x":0.722,"y":0.519,"cond":"FinA"},{"t":"PDR1mut","x":0.756,"y":0.161,"cond":"FLZ"}]},"mark":{"type":"text","fontSize":12,"fontWeight":"bold"},"encoding":{"x":{"field":"x","type":"quantitative","scale":{"domain":[0.445,1.103],"nice":false,"zero":false}},"y":{"field":"y","type":"quantitative","scale":{"domain":[0.077,1.078],"nice":false,"zero":false}},"text":{"field":"t"},"fill":{"condition":{"test":"datum.cond === 'FLZ'","value":"#7cc4be"},"value":"#1f1b6e"}}}
  ]}
 ]}
 ]},
{"spacing":1,
 "resolve":{"scale":{"fill":"independent","shape":"independent","color":"independent"},"legend":{"fill":"independent","shape":"independent","color":"independent"}},
 "hconcat":[
 {"width":1,"height":1,"view":{"stroke":null},"data":{"values":[{"k":0}]},"mark":{"type":"text","text":""},"encoding":{}},
 {"spacing":18,
  "resolve":{"scale":{"fill":"independent","shape":"independent","color":"independent"},"legend":{"fill":"independent","shape":"independent","color":"independent"}},
  "hconcat":[
 {"title":{"text":"C","dx":-40,"offset":-12},"spacing":8,
  "resolve":{"scale":{"shape":"shared"},"legend":{"shape":"shared"}},
  "hconcat":[
  {"width":161,"height":113,
   "layer":[
    {"data":{"name":"C"},"transform":[{"density":"v","groupby":["g","c"],"bandwidth":0.06,"extent":[0.1,1.3],"steps":120},{"calculate":"indexof(['no','non-syn (ns)','PTC'], datum.g)","as":"gi"},{"calculate":"datum.gi + (datum.c === 'ANI' ? -1 : 1) * datum.density * 0.045","as":"xe"}],
     "mark":{"type":"area","orient":"horizontal"},
     "encoding":{"y":{"field":"value","type":"quantitative","scale":{"domain":[0.12,1.35],"nice":false,"zero":false},"axis":{"values":[0.25,0.5,0.75,1.0,1.25],"format":".2f","title":"flz resistance (rAUC)","titleFontSize":12,"labelFont":"Liberation Sans","labelFontSize":10.5,"titlePadding":12,"labelOverlap":false}},"x":{"field":"xe","type":"quantitative","scale":{"domain":[-0.467,2.46],"nice":false,"zero":false},"axis":{"values":[0,1,2],"labelExpr":"['no','non-syn (ns)','PTC'][datum.value]","title":"ERG3 mutations","titleFontSize":10,"labelFont":"Liberation Sans","labelFontSize":11,"titlePadding":4,"labelOverlap":false}},"x2":{"field":"gi"},"detail":[{"field":"g"},{"field":"c"}],"fill":{"condition":{"test":"datum.c === 'ANI'","value":"#c3aed6"},"value":"#b48b78"},"opacity":{"value":0.85}}},
    {"data":{"values":[{"v":1.0}]},"mark":{"type":"rule","color":"#222","strokeDash":[4,3],"strokeWidth":1},"encoding":{"y":{"field":"v","type":"quantitative","scale":{"domain":[0.12,1.35],"nice":false,"zero":false},"axis":{"labelOverlap":false}}}},
    {"data":{"values":[{"x":-0.24,"y":0.85,"x2":-0.24,"y2":1.225},{"x":-0.24,"y":1.225,"x2":0.87,"y2":1.225},{"x":0.87,"y":1.225,"x2":0.87,"y2":1.09}]},"mark":{"type":"rule","color":"#e055f0","strokeDash":[1.5,1.5],"strokeWidth":1.2},"encoding":{"x":{"field":"x","type":"quantitative","scale":{"domain":[-0.467,2.46],"nice":false,"zero":false},"axis":{"labelOverlap":false}},"y":{"field":"y","type":"quantitative","scale":{"domain":[0.12,1.35],"nice":false,"zero":false},"axis":{"labelOverlap":false}},"x2":{"field":"x2"},"y2":{"field":"y2"}}},
    {"data":{"name":"C"},"transform":[{"calculate":"indexof(['no','non-syn (ns)','PTC'], datum.g)","as":"gi"},{"calculate":"datum.gi + datum.s * 0.09","as":"xp"}],
     "mark":{"type":"point","filled":true,"size":36,"stroke":"black","strokeWidth":0.7,"opacity":1},
     "encoding":{"x":{"field":"xp","type":"quantitative","scale":{"domain":[-0.467,2.46],"nice":false,"zero":false},"axis":{"labelOverlap":false}},
      "y":{"field":"v","type":"quantitative","scale":{"domain":[0.12,1.35],"nice":false,"zero":false},"axis":{"labelOverlap":false}},
      "fill":{"condition":{"test":"datum.c === 'ANI'","value":"#d42af2"},"value":"#6e0f12"}}},
    {"data":{"name":"C"},"transform":[{"filter":"datum.sus === 1"},{"calculate":"indexof(['no','non-syn (ns)','PTC'], datum.g)","as":"gi"},{"calculate":"datum.gi + datum.s * 0.09","as":"xp"}],
     "mark":{"type":"point","filled":true,"size":36,"color":"#d42af2","fill":"#d42af2","stroke":"black","strokeWidth":0.9,"opacity":1},
     "encoding":{"x":{"field":"xp","type":"quantitative","scale":{"domain":[-0.467,2.46],"nice":false,"zero":false},"axis":{"labelOverlap":false}},"y":{"field":"v","type":"quantitative","scale":{"domain":[0.12,1.35],"nice":false,"zero":false},"axis":{"labelOverlap":false}},
      "shape":{"field":"sus","type":"nominal","scale":{"domain":[1],"range":["M-1,0A1,1 0 1,0 1,0A1,1 0 1,0 -1,0Z M-0.8,0.8L0.8,-0.8"]},
       "legend":{"title":null,"orient":"top","labelExpr":"'flz-susceptible (MIC <= 2xMICWT)'","symbolSize":200,"symbolFillColor":"#d42af2","symbolStrokeColor":"black","symbolStrokeWidth":2,"labelFontSize":13.5,"labelLimit":300,"offset":0,"padding":0}}}},
    {"data":{"values":[{"x":-0.38,"y":0.83,"t":"?"},{"x":1.62,"y":0.64,"t":"?"}]},"mark":{"type":"text","fontSize":12,"color":"#222"},"encoding":{"x":{"field":"x","type":"quantitative","scale":{"domain":[-0.467,2.46],"nice":false,"zero":false},"axis":{"labelOverlap":false}},"y":{"field":"y","type":"quantitative","scale":{"domain":[0.12,1.35],"nice":false,"zero":false},"axis":{"labelOverlap":false}},"text":{"field":"t"}}},
    {"data":{"values":[{"x":0.32,"y":1.365,"t":"p<10⁻⁷"}]},"mark":{"type":"text","fontSize":11,"color":"#d42af2"},"encoding":{"x":{"field":"x","type":"quantitative","scale":{"domain":[-0.467,2.46],"nice":false,"zero":false},"axis":{"labelOverlap":false}},"y":{"field":"y","type":"quantitative","scale":{"domain":[0.12,1.35],"nice":false,"zero":false},"axis":{"labelOverlap":false}},"text":{"field":"t"}}}
   ]},
  {"width":82,"height":113,
   "layer":[
    {"data":{"name":"FLZ"},"transform":[{"density":"v","bandwidth":0.04,"extent":[0.55,1.1],"steps":100},{"calculate":"-datum.density * 0.135","as":"xl"},{"calculate":"datum.density * 0.135","as":"xr"}],
     "mark":{"type":"area","orient":"horizontal","fill":"#c4ddd9","stroke":"#8dbcb6","strokeWidth":0.8},
     "encoding":{"y":{"field":"value","type":"quantitative","scale":{"domain":[0.12,1.35],"nice":false,"zero":false}},"x":{"field":"xl","type":"quantitative","scale":{"domain":[-1,1],"nice":false,"zero":false}},"x2":{"field":"xr"}}},
    {"data":{"values":[{"v":0.92}]},"mark":{"type":"rule","color":"#222","strokeDash":[4,3],"strokeWidth":1},"encoding":{"y":{"field":"v","type":"quantitative","scale":{"domain":[0.12,1.35],"nice":false,"zero":false}}}},
    {"data":{"name":"FLZ"},"transform":[{"calculate":"datum.s * 0.15","as":"xp"}],
     "mark":{"type":"point","filled":true,"size":50,"stroke":"#1e4f4c","strokeWidth":0.8,"opacity":1,"fill":"#5cb3ad"},
     "encoding":{"x":{"field":"xp","type":"quantitative","scale":{"domain":[-1,1],"nice":false,"zero":false},"axis":{"values":[0],"labelExpr":"'FLZ'","title":null,"labelFont":"Liberation Sans","labelFontSize":11}},
      "y":{"field":"v","type":"quantitative","scale":{"domain":[0.12,1.35],"nice":false,"zero":false},"axis":{"values":[0.25,0.5,0.75,1.0,1.25],"labels":false,"title":null}}}}
   ]}
  ]},
 {"title":{"text":"D","offset":16,"dx":-4},
  "vconcat":[
  {"width":284,"height":88,"view":{"stroke":null},
   "title":{"text":"p FISHER < 10⁻⁸","orient":"bottom","anchor":"middle","fontSize":13,"fontWeight":"normal","offset":18},
   "data":{"values":[
    {"row":"h","col":"label","t":"ANI samples"},{"row":"h","col":"ns","t":"ERG3 ns\nmutation"},{"row":"h","col":"none","t":"no ERG3\nmutation"},
    {"row":"r","col":"label","t":"flz-resistant"},{"row":"r","col":"ns","t":"19"},{"row":"r","col":"none","t":"0"},
    {"row":"s","col":"label","t":"flz-susceptible"},{"row":"s","col":"ns","t":"2"},{"row":"s","col":"none","t":"19"}]},
   "encoding":{"x":{"field":"col","type":"nominal","scale":{"domain":["label","ns","none"],"paddingInner":0,"paddingOuter":0},"axis":null},
    "y":{"field":"row","type":"nominal","scale":{"domain":["h","r","s"],"paddingInner":0,"paddingOuter":0},"axis":{"title":null,"domain":false,"ticks":false,"labelFontSize":20,"labelPadding":4,"labelFont":"DejaVu Sans","labelExpr":"datum.value === 'r' ? '●' : (datum.value === 's' ? '∅' : '')","labelColor":{"condition":{"test":"datum.value === 's'","value":"black"},"value":"#c42ff0"}}}},
   "layer":[
    {"mark":{"type":"rect","stroke":"white","strokeWidth":1.5},"encoding":{"fill":{"condition":[{"test":"(datum.row === 'h' && datum.col === 'ns') || (datum.row === 'r' && datum.col === 'label')","value":"#c42ff0"},{"test":"(datum.row === 'h' && datum.col === 'none') || (datum.row === 'r' && datum.col === 'ns') || (datum.row === 's' && datum.col !== 'ns')","value":"#d7c6e2"}],"value":"white"}}},
    {"transform":[{"filter":"datum.row !== 'h'"}],"mark":{"type":"text","fontSize":13,"color":"#111"},"encoding":{"text":{"field":"t"}}},
    {"transform":[{"filter":"datum.row === 'h' && datum.col !== 'label'"}],"mark":{"type":"text","fontSize":12.5,"color":"#111","lineBreak":"\n","lineHeight":14,"dy":-7},"encoding":{"text":{"field":"t"}}},
    {"transform":[{"filter":"datum.row === 'h' && datum.col === 'label'"}],"mark":{"type":"text","fontSize":14,"fontWeight":"bold","color":"#c42ff0"},"encoding":{"text":{"field":"t"}}}
   ]}
  ]}
 ]}
 ]},
{"spacing":1,
 "resolve":{"scale":{"fill":"independent","shape":"independent","color":"independent"},"legend":{"fill":"independent","shape":"independent","color":"independent"}},
 "hconcat":[
 {"width":1,"height":1,"view":{"stroke":null},"data":{"values":[{"k":0}]},"mark":{"type":"text","text":""},"encoding":{}},
 {"spacing":70,
  "resolve":{"scale":{"fill":"independent","shape":"independent","color":"independent"},"legend":{"fill":"independent","shape":"independent","color":"independent"}},
  "hconcat":[
 {"title":{"text":"E","dx":-35},
  "resolve":{"scale":{"fill":"independent"},"legend":{"fill":"independent"}},
  "vconcat":[
  {"width":220,"height":153,"view":{"stroke":null},
   "title":{"text":"in vitro fitness competition","fontSize":14,"anchor":"middle","frame":"bounds","offset":12},
   "layer":[
    {"data":{"name":"E"},"mark":{"type":"bar","stroke":"black","strokeWidth":2.5},
     "encoding":{
      "x":{"field":"grp","type":"nominal","scale":{"domain":["1_0.5","1_0.75","2_0.5"],"paddingInner":0.2,"paddingOuter":0.1},"axis":{"title":"initial ratio of ERG3 (D122Y) mutants","labelAngle":0,"domain":true,"domainColor":"black","domainWidth":2,"tickColor":"black","tickWidth":2,"tickSize":6,"labelFont":"Liberation Sans","labelFontWeight":"bold","labelFontSize":12,"labelColor":"black","titleFontWeight":"bold","titleFontSize":12.5,"titleColor":"black","titlePadding":15}},
      "xOffset":{"field":"cond","type":"nominal","scale":{"domain":["start","24h_YPD","24h_YPD + 0.5ug/ml ani"],"paddingInner":0.35}},
      "y":{"field":"val","type":"quantitative","scale":{"domain":[0,1],"nice":false},"axis":{"title":"ratio of ERG3 (D122Y) mutants","values":[0,0.2,0.4,0.6,0.8,1.0],"format":".1f","domain":true,"domainColor":"black","domainWidth":2,"tickColor":"black","tickWidth":2,"tickSize":6,"labelFont":"Liberation Sans","labelFontWeight":"bold","labelFontSize":12,"labelColor":"black","titleFontWeight":"bold","titleFontSize":12,"titleColor":"black","titlePadding":6}},
      "fill":{"field":"cond","type":"nominal","scale":{"domain":["start","24h_YPD"," ","24h_YPD + 0.5ug/ml ani"],"range":["#e8b477","#e0953f","white","#6c1013"]},
       "legend":{"title":null,"orient":"none","legendX":-30,"legendY":203,"direction":"horizontal","columns":2,"symbolType":"M-1,-0.5H1V0.5H-1Z","symbolSize":300,"symbolStrokeColor":"black","symbolStrokeWidth":2,"labelFontSize":13,"labelLimit":300,"columnPadding":20,"rowPadding":2,"padding":0,
        "encode":{"symbols":{"update":{"strokeOpacity":{"signal":"datum.value === ' ' ? 0 : 1"}}}}}}}},
    {"data":{"name":"E"},"transform":[{"filter":"isValid(datum.hi)"}],"mark":{"type":"rule","color":"black","strokeWidth":1.5},"encoding":{"x":{"field":"grp","type":"nominal"},"xOffset":{"field":"cond","type":"nominal"},"y":{"field":"val","type":"quantitative"},"y2":{"field":"hi"}}},
    {"data":{"name":"E"},"transform":[{"filter":"isValid(datum.hi)"}],"mark":{"type":"tick","color":"black","thickness":1.5,"size":8},"encoding":{"x":{"field":"grp","type":"nominal"},"xOffset":{"field":"cond","type":"nominal"},"y":{"field":"hi","type":"quantitative"}}},
    {"data":{"values":[{"grp":"2_0.5","y0":0,"y1":1.03}]},"mark":{"type":"rule","color":"black","strokeWidth":2},"encoding":{"x":{"field":"grp","type":"nominal","bandPosition":-0.12},"y":{"field":"y0","type":"quantitative"},"y2":{"field":"y1"}}}
   ]}
  ]},
 {"title":{"text":"F","dx":-17},
  "resolve":{"scale":{"fill":"independent"},"legend":{"fill":"independent"}},
  "vconcat":[
  {"width":163,"height":158,"view":{"stroke":null},
   "title":{"text":"fitness competition in Galleria mellonella","fontSize":13.5,"anchor":"middle","frame":"group","offset":12},
   "layer":[
    {"data":{"name":"F"},"mark":{"type":"bar","stroke":"black","strokeWidth":2.5},
     "encoding":{
      "x":{"field":"grp","type":"nominal","scale":{"domain":["a","b"],"paddingInner":0.35,"paddingOuter":0.1},"axis":{"title":"initial ratio of ERG3 (D122Y) mutant","labelExpr":"'0.5'","labelAngle":0,"domain":true,"domainColor":"black","domainWidth":2,"tickColor":"black","tickWidth":2,"tickSize":6,"labelFont":"Liberation Sans","labelFontWeight":"bold","labelFontSize":12,"labelColor":"black","titleFontWeight":"bold","titleFontSize":12.5,"titleColor":"black","titlePadding":10}},
      "xOffset":{"field":"cond","type":"nominal","scale":{"domain":["start","24h"],"paddingInner":0.35}},
      "y":{"field":"val","type":"quantitative","scale":{"domain":[0,0.8],"nice":false},"axis":{"title":"ratio of ERG3 (D122Y) mutant","values":[0,0.2,0.4,0.6,0.8],"format":".1f","domain":true,"domainColor":"black","domainWidth":2,"tickColor":"black","tickWidth":2,"tickSize":6,"labelFont":"Liberation Sans","labelFontWeight":"bold","labelFontSize":12,"labelColor":"black","titleFontWeight":"bold","titleFontSize":12,"titleColor":"black","titlePadding":6}},
      "fill":{"field":"cond","type":"nominal","scale":{"domain":["start","24h"],"range":["#e8b477","#aab427"]},
       "legend":{"title":null,"orient":"none","legendX":-27,"legendY":199,"direction":"horizontal","symbolType":"M-1,-0.5H1V0.5H-1Z","symbolSize":300,"symbolStrokeColor":"black","symbolStrokeWidth":2,"labelFontSize":13,"columnPadding":35,"padding":0}}}},
    {"data":{"name":"F"},"transform":[{"filter":"isValid(datum.hi)"}],"mark":{"type":"rule","color":"black","strokeWidth":1.5},"encoding":{"x":{"field":"grp","type":"nominal"},"xOffset":{"field":"cond","type":"nominal"},"y":{"field":"val","type":"quantitative"},"y2":{"field":"hi"}}},
    {"data":{"name":"F"},"transform":[{"filter":"isValid(datum.hi)"}],"mark":{"type":"tick","color":"black","thickness":1.5,"size":10},"encoding":{"x":{"field":"grp","type":"nominal"},"xOffset":{"field":"cond","type":"nominal"},"y":{"field":"hi","type":"quantitative"}}}
   ]}
  ]}
 ]}
 ]}
]
}
